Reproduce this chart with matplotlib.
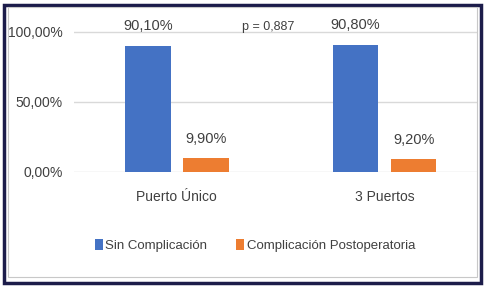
import matplotlib
matplotlib.use('Agg')
from matplotlib import pyplot as plt
from matplotlib.patches import Rectangle
import numpy as np

plt.rcParams['font.family'] = ['Liberation Sans', 'DejaVu Sans']

categories = ['Puerto Único', '3 Puertos']
sin_complicacion = [90.1, 90.8]
complicacion = [9.9, 9.2]
sin_labels = ['90,10%', '90,80%']
comp_labels = ['9,90%', '9,20%']
yticks = [0, 50, 100]
ytick_labels = ['0,00%', '50,00%', '100,00%']
p_text = 'p = 0,887'

text_color = '#404040'
fig = plt.figure(figsize=(4.85, 2.89), dpi=100)
ax = fig.add_axes([0.1526, 0.405, 0.833, 0.5087])

x = np.arange(len(categories))
w = 0.22
b1 = ax.bar(x - 0.14, sin_complicacion, w, color='#4472C4', label='Sin Complicación', zorder=3)
b2 = ax.bar(x + 0.14, complicacion, w, color='#ED7D31', label='Complicación Postoperatoria', zorder=3)

ax.bar_label(b1, labels=sin_labels, padding=9, fontsize=10.5, color=text_color)
ax.bar_label(b2, labels=comp_labels, padding=9, fontsize=10.5, color=text_color)

ax.text(0.44, 103.6, p_text, fontsize=9, color=text_color, ha='center', va='center')

ax.set_xlim(-0.495, 1.45)
ax.set_ylim(0, 105)
ax.set_yticks(yticks)
ax.set_yticklabels(ytick_labels)
ax.set_xticks(x)
ax.set_xticklabels(categories)
ax.tick_params(axis='y', length=0, pad=8, labelsize=10, labelcolor=text_color)
ax.tick_params(axis='x', length=0, pad=13, labelsize=10, labelcolor=text_color)
ax.yaxis.grid(True, color='#d9d9d9', linewidth=1, zorder=0)
ax.set_axisbelow(True)
for s in ax.spines.values():
    s.set_visible(False)

fig.legend(loc='center', bbox_to_anchor=(0.526, 0.152), ncol=2, frameon=False,
           fontsize=9.5, handlelength=0.6, handleheight=0.9, handletextpad=0.2,
           columnspacing=2.2, labelcolor=text_color)

# frame around the chart
fig.patches.append(Rectangle((0.008, 0.022), 0.984, 0.96, transform=fig.transFigure,
                             fill=False, edgecolor='#1c1c4a', linewidth=2.5))
fig.patches.append(Rectangle((0.016, 0.04), 0.968, 0.935, transform=fig.transFigure,
                             fill=False, edgecolor='#c8c8c8', linewidth=0.8))

plt.savefig('out.png', dpi=100)
